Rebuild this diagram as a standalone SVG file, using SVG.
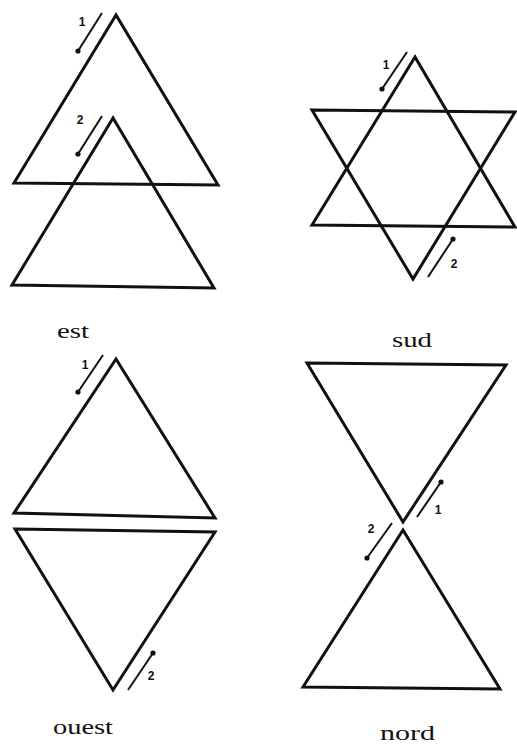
<svg xmlns="http://www.w3.org/2000/svg" width="517" height="746" viewBox="0 0 517 746">
<style>
.tri{fill:none;stroke:#111;stroke-width:3;stroke-linejoin:miter}
.arr{fill:none;stroke:#111;stroke-width:2;marker-end:url(#dot)}
.num{font-family:"Liberation Sans",Arial,sans-serif;font-weight:bold;font-size:12px;fill:#111;text-anchor:middle}
.lbl{font-family:"Liberation Serif","Times New Roman",serif;font-size:20px;fill:#111}
</style>
<defs>
<marker id="dot" markerWidth="6" markerHeight="6" refX="3" refY="3" markerUnits="userSpaceOnUse"><circle cx="3" cy="3" r="2.6" fill="#111"/></marker>
</defs>
<rect width="517" height="746" fill="#fff"/>
<g id="est">
<polygon class="tri" points="116,15 14,183 218,185"/>
<polygon class="tri" points="113,118 12,285 214,288"/>
<text class="lbl" x="57" y="338" textLength="32" lengthAdjust="spacingAndGlyphs">est</text>
</g>
<g id="sud">
<polygon class="tri" points="415,57 312,225 515,227"/>
<polygon class="tri" points="312,110 515,112 413,279"/>
<text class="lbl" x="392" y="347" textLength="40" lengthAdjust="spacingAndGlyphs">sud</text>
</g>
<g id="ouest">
<polygon class="tri" points="116,359 14,513 215,518"/>
<polygon class="tri" points="15,529 215,532 113,690"/>
<text class="lbl" x="53" y="734" textLength="60" lengthAdjust="spacingAndGlyphs">ouest</text>
</g>
<g id="nord">
<polygon class="tri" points="307,363 506,365 403,522"/>
<polygon class="tri" points="403,530 303,687 500,689"/>
<text class="lbl" x="380" y="740" textLength="55" lengthAdjust="spacingAndGlyphs">nord</text>
</g>
<g id="connectors">
<line class="arr" x1="102" y1="13" x2="78" y2="51"/>
<text class="num" x="82" y="26">1</text>
<line class="arr" x1="102" y1="116" x2="78" y2="154"/>
<text class="num" x="80" y="124">2</text>
<line class="arr" x1="407" y1="52" x2="382" y2="89"/>
<text class="num" x="386" y="69">1</text>
<line class="arr" x1="428" y1="277" x2="453" y2="239"/>
<text class="num" x="454" y="268">2</text>
<line class="arr" x1="103" y1="355" x2="78" y2="392"/>
<text class="num" x="85" y="369">1</text>
<line class="arr" x1="128" y1="690" x2="153" y2="653"/>
<text class="num" x="151" y="680">2</text>
<line class="arr" x1="417" y1="517" x2="441" y2="482"/>
<text class="num" x="438" y="514">1</text>
<line class="arr" x1="392" y1="523" x2="367" y2="558"/>
<text class="num" x="371" y="533">2</text>
</g>
</svg>
